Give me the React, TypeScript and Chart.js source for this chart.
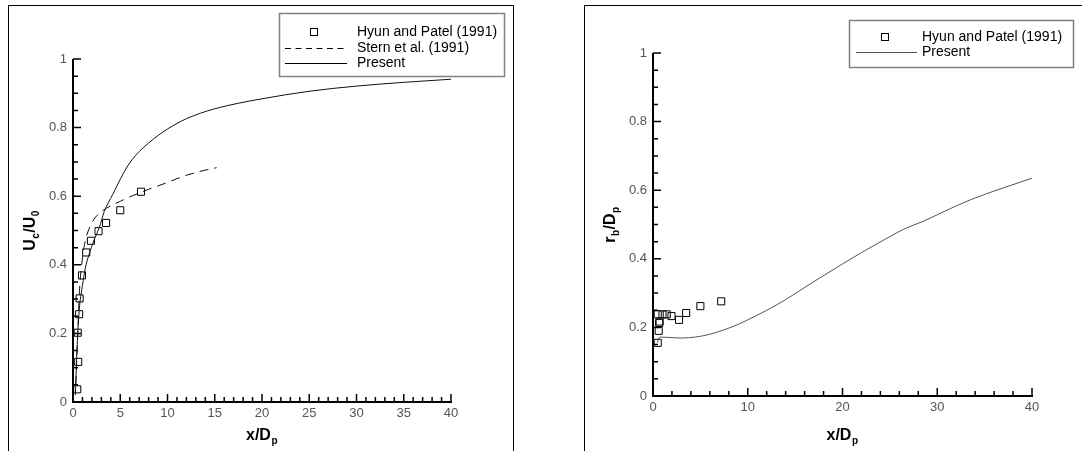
import React, { useEffect, useRef } from "react";
import { Chart, registerables } from "chart.js";
Chart.register(...registerables);

const FONT = "Arial, 'Liberation Sans', sans-serif";

// ---------- Left panel: centreline velocity U_c/U_0 ----------
const leftHyunX = [0.45, 0.55, 0.5, 0.65, 0.7, 0.95, 1.4, 1.9, 2.7, 3.5, 5.0, 7.2];
const leftHyunY = [0.037, 0.117, 0.202, 0.256, 0.302, 0.369, 0.436, 0.47, 0.498, 0.522, 0.559, 0.613];

const sternX = [0.3, 0.5, 0.7, 1.0, 1.3, 1.7, 2.2, 3.0, 4.0, 5.0, 6.0, 7.0, 8.0, 9.0, 10.0, 11.0, 12.0, 13.0, 14.0, 15.2];
const sternY = [0.05, 0.2, 0.33, 0.42, 0.47, 0.505, 0.532, 0.555, 0.572, 0.585, 0.598, 0.609, 0.62, 0.63, 0.64, 0.651, 0.661, 0.669, 0.676, 0.683];

const leftPresentX = [0.25, 0.35, 0.5, 0.7, 1.0, 1.3, 1.7, 2.2, 2.8, 3.3, 4.2, 5.3, 6.0, 7.0, 8.0, 9.0, 10, 11, 12, 13.5, 15, 17.5, 20, 25, 30, 35, 40];
const leftPresentY = [0.02, 0.1, 0.2, 0.28, 0.34, 0.39, 0.43, 0.47, 0.51, 0.555, 0.605, 0.665, 0.697, 0.73, 0.755, 0.777, 0.796, 0.812, 0.826, 0.842, 0.855, 0.871, 0.884, 0.906, 0.921, 0.932, 0.941];

// ---------- Right panel: r_b/D_p ----------
const rightHyunX = [0.5, 0.6, 0.65, 0.7, 0.5, 1.0, 1.45, 1.95, 2.75, 3.5, 5.0, 7.2];
const rightHyunY = [0.155, 0.19, 0.213, 0.217, 0.238, 0.238, 0.238, 0.233, 0.222, 0.242, 0.262, 0.276];

const rightPresentX = [0.45, 0.7, 1.5, 3.0, 4.5, 6.0, 7.5, 9.0, 10.0, 12.0, 14.0, 17.0, 20.0, 22.0, 24.5, 26.5, 28.5, 30.5, 33.5, 37.0, 40.0];
const rightPresentY = [0.155, 0.172, 0.171, 0.169, 0.172, 0.18, 0.193, 0.209, 0.222, 0.25, 0.281, 0.334, 0.385, 0.418, 0.457, 0.487, 0.509, 0.535, 0.572, 0.607, 0.635];

// tick labels
const yTickStep = 0.2;
const leftXTickStep = 5;
const rightXTickStep = 10;

const legendLabels = {
  hyun: "Hyun and Patel (1991)",
  stern: "Stern et al. (1991)",
  present: "Present",
};

type Seg = [string, boolean];

function pts(xs: number[], ys: number[]) {
  return xs.map((x, i) => ({ x, y: ys[i] }));
}

function drawSegs(ctx: CanvasRenderingContext2D, segs: Seg[], cx: number, base: number) {
  const main = `bold 16px ${FONT}`;
  const sub = `bold 10px ${FONT}`;
  let total = 0;
  const widths = segs.map(([t, s]) => {
    ctx.font = s ? sub : main;
    const w = ctx.measureText(t).width + (s ? 1 : 0);
    total += w;
    return w;
  });
  let x = cx - total / 2;
  ctx.textAlign = "left";
  ctx.textBaseline = "alphabetic";
  ctx.fillStyle = "#000";
  segs.forEach(([t, s], i) => {
    ctx.font = s ? sub : main;
    ctx.fillText(t, x + (s ? 0.5 : 0), base + (s ? 4 : 0));
    x += widths[i];
  });
}

type PanelCfg = {
  xMax: number;
  xMajor: number;
  xMinor: number;
  yMajor: number;
  yMinor: number;
  frame: number[][];
  yTitle: Seg[];
  xTitle: Seg[];
  yTitleBase: number;
  legend: (ctx: CanvasRenderingContext2D) => void;
};

function makePlugin(cfg: PanelCfg) {
  return {
    id: "panelDecor",
    afterDraw(chart: any) {
      const ctx: CanvasRenderingContext2D = chart.ctx;
      const xs = chart.scales.x;
      const ys = chart.scales.y;
      ctx.save();
      // frame
      ctx.strokeStyle = "#000";
      ctx.lineWidth = 1;
      ctx.beginPath();
      for (const s of cfg.frame) {
        ctx.moveTo(s[0], s[1]);
        ctx.lineTo(s[2], s[3]);
      }
      ctx.stroke();

      const left = xs.getPixelForValue(0);
      const right = xs.getPixelForValue(cfg.xMax);
      const bottom = ys.getPixelForValue(0);
      const top = ys.getPixelForValue(1);

      // ticks (inward)
      ctx.lineWidth = 1.5;
      ctx.beginPath();
      const nx = Math.round(cfg.xMax / cfg.xMinor);
      const majEveryX = Math.round(cfg.xMajor / cfg.xMinor);
      for (let i = 1; i <= nx; i++) {
        const p = xs.getPixelForValue(i * cfg.xMinor);
        const len = i % majEveryX === 0 ? 8 : 5;
        ctx.moveTo(p, bottom);
        ctx.lineTo(p, bottom - len);
      }
      const ny = Math.round(1 / cfg.yMinor);
      const majEveryY = Math.round(cfg.yMajor / cfg.yMinor);
      for (let i = 1; i <= ny; i++) {
        const p = ys.getPixelForValue(i * cfg.yMinor);
        const len = i % majEveryY === 0 ? 8 : 5;
        ctx.moveTo(left, p);
        ctx.lineTo(left + len, p);
      }
      ctx.stroke();

      // axis lines
      ctx.lineWidth = 2;
      ctx.beginPath();
      ctx.moveTo(left, top);
      ctx.lineTo(left, bottom);
      ctx.lineTo(right + 1, bottom);
      ctx.stroke();

      // axis titles
      drawSegs(ctx, cfg.xTitle, (left + right) / 2, 440);
      ctx.save();
      ctx.translate(cfg.yTitleBase, (top + bottom) / 2);
      ctx.rotate(-Math.PI / 2);
      drawSegs(ctx, cfg.yTitle, 0, 0);
      ctx.restore();

      // legend
      cfg.legend(ctx);
      ctx.restore();
    },
  };
}

function fmtY(v: number) {
  if (Math.abs(v) < 1e-9) return "0";
  if (Math.abs(v - 1) < 1e-9) return "1";
  return v.toFixed(1);
}

function baseScales(xMax: number, xStep: number, yWidth: number, xHeight: number) {
  const tickFont = { size: 13, family: FONT };
  return {
    x: {
      type: "linear",
      min: 0,
      max: xMax,
      afterFit: (s: any) => {
        s.height = xHeight;
      },
      grid: { display: false, drawTicks: false },
      border: { display: false },
      ticks: { stepSize: xStep, padding: 4, color: "#555", font: tickFont, maxRotation: 0, autoSkip: false },
    },
    y: {
      type: "linear",
      min: 0,
      max: 1,
      afterFit: (s: any) => {
        s.width = yWidth;
      },
      grid: { display: false, drawTicks: false },
      border: { display: false },
      ticks: { stepSize: yTickStep, padding: 6, color: "#555", font: tickFont, autoSkip: false, callback: (v: any) => fmtY(Number(v)) },
    },
  };
}

const squareStyle = {
  showLine: false,
  pointStyle: "rect",
  pointRadius: 5,
  pointBorderWidth: 1,
  pointBorderColor: "#000",
  pointBackgroundColor: "rgba(0,0,0,0)",
  borderColor: "#000",
  backgroundColor: "rgba(0,0,0,0)",
  clip: false,
};

function leftConfig(): any {
  return {
    type: "scatter",
    data: {
      datasets: [
        {
          label: legendLabels.present,
          data: pts(leftPresentX, leftPresentY),
          showLine: true,
          pointRadius: 0,
          borderColor: "#111",
          borderWidth: 1,
          cubicInterpolationMode: "monotone",
          clip: false,
        },
        {
          label: legendLabels.stern,
          data: pts(sternX, sternY),
          showLine: true,
          pointRadius: 0,
          borderColor: "#111",
          borderWidth: 1,
          borderDash: [9, 6],
          cubicInterpolationMode: "monotone",
          clip: false,
        },
        { label: legendLabels.hyun, data: pts(leftHyunX, leftHyunY), ...squareStyle },
      ],
    },
    options: {
      responsive: false,
      animation: false,
      devicePixelRatio: 1,
      events: [],
      layout: { padding: { left: 0, top: 59, right: 89, bottom: 0 } },
      plugins: { legend: { display: false }, tooltip: { enabled: false } },
      scales: baseScales(40, leftXTickStep, 73, 49),
    },
    plugins: [
      makePlugin({
        xMax: 40,
        xMajor: 5,
        xMinor: 1,
        yMajor: 0.2,
        yMinor: 0.05,
        frame: [
          [8.5, 5.5, 513.5, 5.5],
          [8.5, 5.5, 8.5, 451],
          [513.5, 5.5, 513.5, 451],
        ],
        xTitle: [["x/D", false], ["p", true]],
        yTitle: [["U", false], ["c", true], ["/U", false], ["0", true]],
        yTitleBase: 35,
        legend: (ctx) => {
          ctx.strokeStyle = "#808080";
          ctx.lineWidth = 1.5;
          ctx.setLineDash([]);
          ctx.strokeRect(279.5, 13.5, 225, 63);
          ctx.strokeStyle = "#000";
          ctx.lineWidth = 1;
          ctx.strokeRect(310.5, 28.5, 7, 7);
          ctx.beginPath();
          ctx.setLineDash([6, 4.5]);
          ctx.moveTo(285, 48.5);
          ctx.lineTo(347, 48.5);
          ctx.stroke();
          ctx.setLineDash([]);
          ctx.beginPath();
          ctx.moveTo(285, 63.5);
          ctx.lineTo(347, 63.5);
          ctx.stroke();
          ctx.fillStyle = "#000";
          ctx.font = `14px ${FONT}`;
          ctx.textAlign = "left";
          ctx.textBaseline = "middle";
          ctx.fillText(legendLabels.hyun, 357, 32);
          ctx.fillText(legendLabels.stern, 357, 48);
          ctx.fillText(legendLabels.present, 357, 63);
        },
      }),
    ],
  };
}

function rightConfig(): any {
  return {
    type: "scatter",
    data: {
      datasets: [
        {
          label: legendLabels.present,
          data: pts(rightPresentX, rightPresentY),
          showLine: true,
          pointRadius: 0,
          borderColor: "#555",
          borderWidth: 1,
          cubicInterpolationMode: "monotone",
          clip: false,
        },
        { label: legendLabels.hyun, data: pts(rightHyunX, rightHyunY), ...squareStyle },
      ],
    },
    options: {
      responsive: false,
      animation: false,
      devicePixelRatio: 1,
      events: [],
      layout: { padding: { left: 0, top: 53, right: 50, bottom: 0 } },
      plugins: { legend: { display: false }, tooltip: { enabled: false } },
      scales: baseScales(40, rightXTickStep, 113, 55),
    },
    plugins: [
      makePlugin({
        xMax: 40,
        xMajor: 10,
        xMinor: 2,
        yMajor: 0.2,
        yMinor: 0.05,
        frame: [
          [44.5, 5.5, 542, 5.5],
          [44.5, 5.5, 44.5, 451],
        ],
        xTitle: [["x/D", false], ["p", true]],
        yTitle: [["r", false], ["b", true], ["/D", false], ["p", true]],
        yTitleBase: 75,
        legend: (ctx) => {
          ctx.strokeStyle = "#808080";
          ctx.lineWidth = 1.5;
          ctx.setLineDash([]);
          ctx.strokeRect(309.5, 20.5, 224, 47);
          ctx.strokeStyle = "#000";
          ctx.lineWidth = 1;
          ctx.strokeRect(341.5, 33.5, 7, 7);
          ctx.strokeStyle = "#555";
          ctx.beginPath();
          ctx.moveTo(316, 52.5);
          ctx.lineTo(377, 52.5);
          ctx.stroke();
          ctx.fillStyle = "#000";
          ctx.font = `14px ${FONT}`;
          ctx.textAlign = "left";
          ctx.textBaseline = "middle";
          ctx.fillText(legendLabels.hyun, 382, 37);
          ctx.fillText(legendLabels.present, 382, 52);
        },
      }),
    ],
  };
}

function Panel({ left, width, build }: { left: number; width: number; build: () => any }) {
  const ref = useRef<HTMLCanvasElement>(null);
  useEffect(() => {
    const chart = new Chart(ref.current as HTMLCanvasElement, build());
    return () => chart.destroy();
  }, []);
  return (
    <canvas
      ref={ref}
      width={width}
      height={451}
      style={{ position: "absolute", left, top: 0, width, height: 451, display: "block" }}
    />
  );
}

export default function App() {
  return (
    <div style={{ position: "absolute", left: 0, top: 0, width: 1082, height: 451, background: "#fff", overflow: "hidden" }}>
      <Panel left={0} width={540} build={leftConfig} />
      <Panel left={540} width={542} build={rightConfig} />
    </div>
  );
}
